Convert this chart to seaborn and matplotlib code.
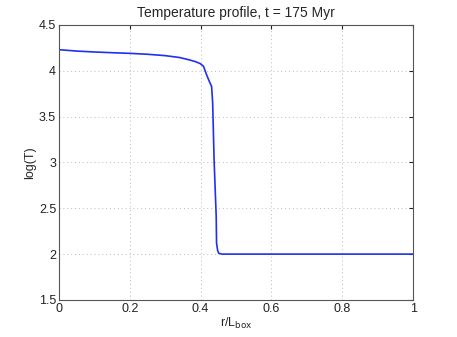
import matplotlib
matplotlib.use("Agg")
import matplotlib.pyplot as plt
import seaborn as sns
import pandas as pd

# temperature profile
r = [0.0, 0.05, 0.1, 0.15, 0.2, 0.25, 0.3, 0.34, 0.367, 0.385, 0.398, 0.408,
     0.417, 0.425, 0.431, 0.434, 0.438, 0.444, 0.445, 0.448, 0.451, 0.46,
     0.6, 0.8, 1.0]
logT = [4.23, 4.215, 4.205, 4.197, 4.19, 4.18, 4.165, 4.145, 4.12, 4.10,
        4.08, 4.05, 3.955, 3.88, 3.83, 3.65, 3.03, 2.41, 2.12, 2.04, 2.01,
        2.0, 2.0, 2.0, 2.0]
df = pd.DataFrame({'r': r, 'logT': logT})

sns.set_style('white')
plt.rcParams['font.family'] = ['Liberation Sans', 'DejaVu Sans']

fig = plt.figure(figsize=(4.57, 3.37), dpi=100)
ax = fig.add_axes([0.129, 0.110, 0.775, 0.816])

sns.lineplot(data=df, x='r', y='logT', ax=ax, color='#1f30f2', linewidth=1.2)

ax.set_xlim(0, 1)
ax.set_ylim(1.5, 4.5)
ax.set_xticks([0, 0.2, 0.4, 0.6, 0.8, 1])
ax.set_xticklabels(['0', '0.2', '0.4', '0.6', '0.8', '1'])
ax.set_yticks([1.5, 2, 2.5, 3, 3.5, 4, 4.5])
ax.set_yticklabels(['1.5', '2', '2.5', '3', '3.5', '4', '4.5'])
ax.grid(True, linestyle=(0, (1, 3)), color='#bbbbbb', linewidth=0.7)
ax.tick_params(direction='in', length=3, labelsize=9, colors='#222222',
               top=True, right=True, pad=2)
for s in ax.spines.values():
    s.set_color('#555555')
    s.set_linewidth(0.8)

ax.set_title('Temperature profile, t = 175 Myr', fontsize=10, pad=6)
ax.set_xlabel('r/L$_{\\mathrm{box}}$', fontsize=9, labelpad=1)
ax.set_ylabel('log(T)', fontsize=9, labelpad=2)

fig.savefig('out.png', dpi=100)
